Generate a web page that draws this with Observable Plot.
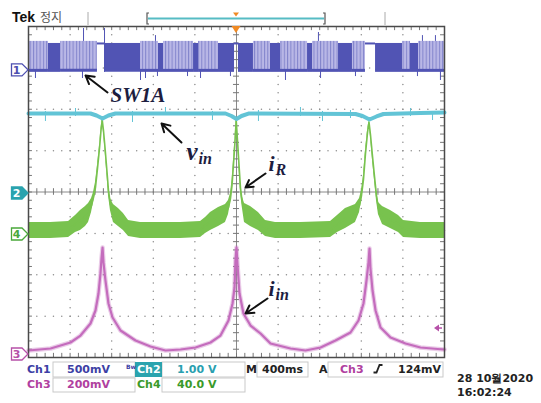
<!DOCTYPE html>
<html><head><meta charset="utf-8">
<script src="https://cdn.jsdelivr.net/npm/d3@7"></script>
<script src="https://cdn.jsdelivr.net/npm/@observablehq/plot@0.6"></script>
<style>body{margin:0;background:#fff;overflow:hidden}</style>
</head><body><div id="chart"></div>
<script>
// ---- time axis: ms from left edge of screen (400 ms/div); values: screen divisions ----
// Ch1 (SW1A) switching segments: L = sparse pulses, D = dense pulses, H = held high
const ch1Start = [0,192,308,663,731,1077,1250,1298,1587,1635,1827,1981,2019,2163,2327,2423,2683,2731,2981,3115,3240,3337,3596,3673,3750];
const ch1End   = [192,308,663,731,1077,1250,1298,1587,1635,1827,1981,2019,2163,2327,2423,2683,2731,2981,3115,3240,3337,3596,3673,3750,4000];
const ch1State = ["L","D","L","H","D","L","D","L","D","L","D","H","D","L","D","L","D","L","D","L","H","D","L","D","L"];
const ch1Low = 2.94, ch1High = 3.59, ch1Peak = 3.64;
const ch1SpikeT  = [529,731,1221,2788,3788,3913, 67,519,1077,1125,1240,1529,1654,1942,2471,2808,3144,3740,3961];
const ch1SpikeHi = [3.952,3.952,3.78,3.855,3.78,3.78, 2.94,2.94,2.94,2.94,2.94,2.94,2.94,2.94,2.94,2.94,2.94,2.94,2.94];
const ch1SpikeLo = [3.64,2.89,3.64,3.64,3.64,3.64, 2.743,2.743,2.695,2.743,2.79,2.79,2.743,2.79,2.695,2.743,2.79,2.79,2.695];

// Ch2 (v_in)
const cyanT = [0,596,654,712,769,836,1894,1952,2000,2048,2115,3144,3212,3279,3346,3413,3769,4000];
const cyanV = [1.897,1.897,1.849,1.776,1.849,1.897,1.897,1.837,1.764,1.837,1.897,1.885,1.837,1.752,1.825,1.885,1.909,1.921];
const cyanSpikeT  = [163,452,1000,1317,1769,2211,2615,2827,3096,3673,3885];
const cyanSpikeHi = [1.946,2.018,1.946,2.042,1.946,1.970,2.042,1.946,1.970,2.018,1.946];
const cyanSpikeLo = [1.704,1.825,1.680,1.849,1.728,1.704,1.825,1.704,1.776,1.825,1.728];

// Ch4 (i_R): band envelope
const greenT  = [0,212,385,452,500,548,577,606,625,644,663,683,697,709,721,736,755,769,788,817,865,913,962,1077,1269,1462,1654,1702,1750,1827,1894,1923,1942,1957,1971,1986,1997,2010,2024,2038,2053,2077,2135,2211,2279,2375,2615,2904,2971,3048,3144,3183,3202,3221,3240,3260,3274,3288,3308,3327,3346,3365,3404,3481,3558,3606,3769,4000];
const greenHi = [-0.737,-0.737,-0.713,-0.568,-0.447,-0.350,-0.278,-0.157,-0.012,0.230,0.640,1.124,1.535,1.776,1.535,1.124,0.568,0.157,-0.157,-0.302,-0.399,-0.520,-0.689,-0.737,-0.737,-0.737,-0.713,-0.616,-0.495,-0.375,-0.302,-0.205,-0.036,0.278,0.761,1.293,1.776,1.293,0.761,0.230,-0.085,-0.278,-0.350,-0.495,-0.689,-0.737,-0.737,-0.713,-0.568,-0.399,-0.302,-0.157,0.036,0.399,1.003,1.486,1.728,1.438,0.955,0.471,0.036,-0.254,-0.350,-0.447,-0.568,-0.689,-0.737,-0.737];
const greenLo = [-1.124,-1.124,-1.100,-0.979,-0.931,-0.834,-0.737,-0.495,-0.254,-0.012,0.471,1.003,1.438,1.704,1.438,1.003,0.399,-0.085,-0.447,-0.737,-0.834,-0.931,-1.076,-1.124,-1.124,-1.124,-1.100,-1.003,-0.931,-0.834,-0.737,-0.544,-0.278,0.036,0.568,1.172,1.704,1.172,0.568,-0.012,-0.326,-0.737,-0.834,-0.931,-1.076,-1.124,-1.124,-1.100,-0.979,-0.882,-0.737,-0.495,-0.205,0.205,0.834,1.390,1.656,1.341,0.761,0.278,-0.205,-0.544,-0.785,-0.882,-0.979,-1.100,-1.124,-1.124];

// Ch3 (i_in)
const pinkT = [0,212,404,500,596,644,673,692,702,712,721,740,769,808,885,1029,1173,1317,1462,1606,1750,1846,1923,1962,1981,1990,2000,2010,2029,2067,2135,2231,2327,2519,2663,2808,2952,3096,3173,3221,3250,3269,3279,3288,3308,3337,3385,3481,3625,3769,3990,4000];
const pinkV = [-3.831,-3.783,-3.638,-3.469,-3.178,-2.864,-2.453,-1.970,-1.607,-1.341,-1.704,-2.139,-2.695,-3.033,-3.348,-3.590,-3.735,-3.831,-3.807,-3.759,-3.638,-3.469,-3.106,-2.695,-2.308,-1.656,-1.341,-1.776,-2.453,-2.937,-3.227,-3.420,-3.662,-3.783,-3.831,-3.759,-3.590,-3.396,-3.106,-2.695,-2.139,-1.704,-1.366,-1.849,-2.381,-2.864,-3.275,-3.517,-3.662,-3.759,-3.807,-3.807];

// channel ground references & trigger
const chName   = ["1","2","4","3"];
const chGround = [2.94,-0.036,-1.027,-3.927];
const triggerT = 2000, triggerLevel = -3.30;

// annotations
const labelMain = ["SW1A","v","i","i"];
const labelSub  = ["","in","R","in"];
const labelT    = [788,1519,2308,2308];
const labelV    = [2.333,0.955,0.689,-2.332];
const arrowT1 = [760,1471,2279,2298], arrowV1 = [2.405,1.196,0.447,-2.574];
const arrowT2 = [548,1279,2087,2087], arrowV2 = [2.816,1.656,0.109,-2.937];

// ---- build tables ----
const segs = ch1Start.map((s,i)=>({s, e:ch1End[i], st:ch1State[i]}));
const ch1Spikes = ch1SpikeT.map((t,i)=>({t, hi:ch1SpikeHi[i], lo:ch1SpikeLo[i]}));
const cyan = cyanT.map((t,i)=>({t, v:cyanV[i]}));
const cyanSpikes = cyanSpikeT.map((t,i)=>({t, hi:cyanSpikeHi[i], lo:cyanSpikeLo[i]}));
const green = greenT.map((t,i)=>({t, hi:greenHi[i], lo:greenLo[i], mid:(greenHi[i]+greenLo[i])/2}));
const pink = pinkT.map((t,i)=>({t, v:pinkV[i]}));
const labels = labelMain.map((m,i)=>({m, s:labelSub[i], t:labelT[i], v:labelV[i]}));
const arrows = arrowT1.map((t,i)=>({t1:t, v1:arrowV1[i], t2:arrowT2[i], v2:arrowV2[i]}));

const majorT = d3.range(400, 4000, 400).filter(t => t !== 2000);
const majorV = [-3,-2,-1,1,2,3];
const minorT = d3.range(80, 4000, 80);
const minorV = d3.range(-19, 20).map(k => k*0.2);
const gridDots = [];
majorT.forEach(t => minorV.forEach(v => gridDots.push({t, v})));
majorV.forEach(v => minorT.forEach(t => gridDots.push({t, v})));

const C1D = "#5154b4", C1L = "#aeacdf", C2 = "#62c4d6", C4 = "#78c24e", C3 = "#c46cbd";

const plot = Plot.plot({
  width: 541, height: 403,
  marginLeft: 28, marginRight: 97, marginTop: 26, marginBottom: 46,
  x: {domain: [0, 4000], axis: null},
  y: {domain: [-4, 4], axis: null},
  style: {background: "#fff", overflow: "visible"},
  marks: [
    Plot.dot(gridDots, {x: "t", y: "v", r: 0.75, fill: "#8c8c8c", stroke: null}),
    Plot.ruleX([triggerT], {stroke: "#8a8a8a", strokeWidth: 1}),
    Plot.ruleY([0], {stroke: "#8a8a8a", strokeWidth: 1}),
    Plot.ruleX(minorT, {x: d => d, y1: -0.08, y2: 0.08, stroke: "#777"}),
    Plot.ruleY(minorV, {y: d => d, x1: 1971, x2: 2029, stroke: "#777"}),
    Plot.ruleX(minorT, {x: d => d, y1: 4, y2: 3.9, stroke: "#777"}),
    Plot.ruleX(minorT, {x: d => d, y1: -4, y2: -3.9, stroke: "#777"}),
    Plot.ruleY(minorV, {y: d => d, x1: 0, x2: 38, stroke: "#777"}),
    Plot.ruleY(minorV, {y: d => d, x1: 3962, x2: 4000, stroke: "#777"}),
    // Ch1
    Plot.rect(segs.filter(d => d.st === "L"), {x1: "s", x2: "e", y1: ch1Low, y2: ch1Peak, fill: C1L}),
    Plot.rect(segs.filter(d => d.st === "D"), {x1: "s", x2: "e", y1: ch1Low, y2: ch1High, fill: C1D}),
    Plot.ruleY(segs.filter(d => d.st !== "H"), {x1: "s", x2: "e", y: ch1Low, stroke: C1D, strokeWidth: 3}),
    Plot.ruleY(segs.filter(d => d.st === "H"), {x1: "s", x2: "e", y: ch1High, stroke: C1D, strokeWidth: 2}),
    Plot.ruleX(ch1Spikes, {x: "t", y1: "lo", y2: "hi", stroke: C1D, strokeWidth: 1}),
    // Ch4
    Plot.areaY(green, {x: "t", y1: "lo", y2: "hi", fill: C4}),
    Plot.lineY(green, {x: "t", y: "mid", stroke: C4, strokeWidth: 1.6}),
    // Ch2
    Plot.ruleX(cyanSpikes, {x: "t", y1: "lo", y2: "hi", stroke: C2, strokeWidth: 1}),
    Plot.lineY(cyan, {x: "t", y: "v", stroke: C2, strokeWidth: 4}),
    // Ch3
    Plot.lineY(pink, {x: "t", y: "v", stroke: C3, strokeWidth: 4.5, strokeOpacity: 0.35}),
    Plot.lineY(pink, {x: "t", y: "v", stroke: C3, strokeWidth: 2.2}),
    Plot.frame({stroke: "#4a4a4a", strokeWidth: 1.5}),
    // annotations
    Plot.arrow(arrows, {x1: "t1", y1: "v1", x2: "t2", y2: "v2", stroke: "#111", strokeWidth: 2, headLength: 9}),
    Plot.text(labels.slice(0,1), {x: "t", y: "v", text: "m", textAnchor: "start", fontFamily: "Liberation Serif", fontStyle: "italic", fontWeight: "bold", fontSize: 21, fill: "#1d1d3f"}),
    Plot.text(labels.slice(1,2), {x: "t", y: "v", text: "m", textAnchor: "start", fontFamily: "Liberation Serif", fontStyle: "italic", fontWeight: "bold", fontSize: 25, fill: "#1d1d3f"}),
    Plot.text(labels.slice(2), {x: "t", y: "v", text: "m", textAnchor: "start", fontFamily: "Liberation Serif", fontStyle: "italic", fontWeight: "bold", fontSize: 22, fill: "#1d1d3f"}),
    Plot.text(labels.slice(1,2), {x: "t", y: "v", text: "s", dx: 12, dy: 6, textAnchor: "start", fontFamily: "Liberation Serif", fontStyle: "italic", fontWeight: "bold", fontSize: 16, fill: "#1d1d3f"}),
    Plot.text(labels.slice(2), {x: "t", y: "v", text: "s", dx: 7, dy: 6, textAnchor: "start", fontFamily: "Liberation Serif", fontStyle: "italic", fontWeight: "bold", fontSize: 16, fill: "#1d1d3f"})
  ]
});
document.getElementById("chart").appendChild(plot);

// ---- oscilloscope chrome, positioned with Plot's scales ----
const sx = plot.scale("x"), sy = plot.scale("y");
const X = v => sx.apply(v), Y = v => sy.apply(v);
const svg = d3.select(plot);

// pulse-train texture for the sparse switching segments
const defs = svg.insert("defs", ":first-child");
const pat = defs.append("pattern").attr("id", "pulses").attr("patternUnits", "userSpaceOnUse").attr("width", 3.3).attr("height", 40);
pat.append("rect").attr("width", 3.3).attr("height", 40).attr("fill", "#b9b7e6");
pat.append("rect").attr("width", 1).attr("height", 40).attr("fill", "#8385cc");
svg.selectAll(`g[fill="${C1L}"]`).attr("fill", "url(#pulses)");

const T = sel => sel.attr("text-anchor", "start");

// channel ground markers
const mCol = ["#4c4fb0", "#2aa3ae", "#4aa83a", "#b650a8"];
const mFill = [false, true, false, false];
chName.forEach((n, i) => {
  const y = Y(chGround[i]);
  svg.append("path").attr("d", `M11.5,${y-6}H22L28,${y}L22,${y+6}H11.5Z`)
    .attr("fill", mFill[i] ? mCol[i] : "#fff").attr("stroke", mCol[i]).attr("stroke-width", 1.3);
  svg.append("text").attr("x", 16.5).attr("y", y + 4).attr("text-anchor", "middle")
    .attr("font-family", "DejaVu Sans").attr("font-weight", "bold").attr("font-size", 11)
    .attr("fill", mFill[i] ? "#fff" : mCol[i]).text(n);
});
// trigger position marker on the top edge
const tx = X(triggerT);
svg.append("path").attr("d", `M${tx-4.5},26H${tx+4.5}L${tx},33Z`).attr("fill", "#f08a24");
// trigger level marker
const ty = Y(triggerLevel);
svg.append("path").attr("d", `M434,${ty}L439,${ty-3.5}V${ty+3.5}Z`).attr("fill", "#b650a8");
svg.append("line").attr("x1", 438).attr("x2", 442).attr("y1", ty).attr("y2", ty).attr("stroke", "#b650a8").attr("stroke-width", 1.5);

// header
T(svg.append("text")).attr("x", 12).attr("y", 22).attr("font-family", "Liberation Sans").attr("font-weight", "bold").attr("font-size", 14).attr("fill", "#111").text("Tek");
T(svg.append("text")).attr("x", 40).attr("y", 22).attr("font-family", "Noto Sans CJK KR").attr("font-size", 12).attr("fill", "#555").text("정지");
[88, 385].forEach(x => svg.append("line").attr("x1", x).attr("x2", x).attr("y1", 12).attr("y2", 25).attr("stroke", "#aaa"));
svg.append("path").attr("d", "M149,13H147V24H149").attr("fill", "none").attr("stroke", "#555").attr("stroke-width", 1.2);
svg.append("path").attr("d", "M323,13H325V24H323").attr("fill", "none").attr("stroke", "#555").attr("stroke-width", 1.2);
svg.append("line").attr("x1", 148).attr("x2", 324).attr("y1", 18.5).attr("y2", 18.5).attr("stroke", "#56bcc4").attr("stroke-width", 2);
svg.append("path").attr("d", `M${tx-3},12.5H${tx+3}L${tx},16.5Z`).attr("fill", "#f08a24");

// status bar
const g = svg.append("g").attr("font-family", "DejaVu Sans").attr("font-weight", "bold").attr("font-size", 11).attr("text-anchor", "start");
const box = (x1, x2, y1, y2, fill) => g.append("rect").attr("x", x1).attr("y", y1).attr("width", x2 - x1).attr("height", y2 - y1)
  .attr("fill", fill || "none").attr("stroke", fill ? "none" : "#c9c9c9");
const txt = (x, y, s, c, size) => g.append("text").attr("x", x).attr("y", y).attr("fill", c).attr("font-size", size || 11).attr("text-anchor", "start").text(s);
box(53, 135, 362, 377); box(162, 245, 362, 377); box(257, 308, 362, 377); box(328, 443, 362, 377);
box(53, 135, 378, 392); box(162, 245, 378, 392);
box(135, 162, 362, 377, "#2aa3ae");
txt(27, 373, "Ch1", "#3d3fa5"); txt(67, 373, "500mV", "#3d3fa5");
txt(126, 369, "Bw", "#3d3fa5", 6);
txt(137, 373, "Ch2", "#fff"); txt(177, 373, "1.00 V", "#2a9fb0");
txt(246, 373, "M", "#222"); txt(262, 373, "400ms", "#222");
txt(319, 373, "A", "#222"); txt(340, 373, "Ch3", "#b0409f"); txt(398, 373, "124mV", "#222");
g.append("path").attr("d", "M373.5,372.5H376.5L379.5,365H382.5").attr("fill", "none").attr("stroke", "#222").attr("stroke-width", 1.8);
txt(27, 388, "Ch3", "#b0409f"); txt(67, 388, "200mV", "#b0409f");
txt(137, 388, "Ch4", "#3a9a2a"); txt(177, 388, "40.0 V", "#3a9a2a");
txt(457, 382, "28 10월2020", "#222"); txt(457, 396, "16:02:24", "#222");
</script>
</body></html>
